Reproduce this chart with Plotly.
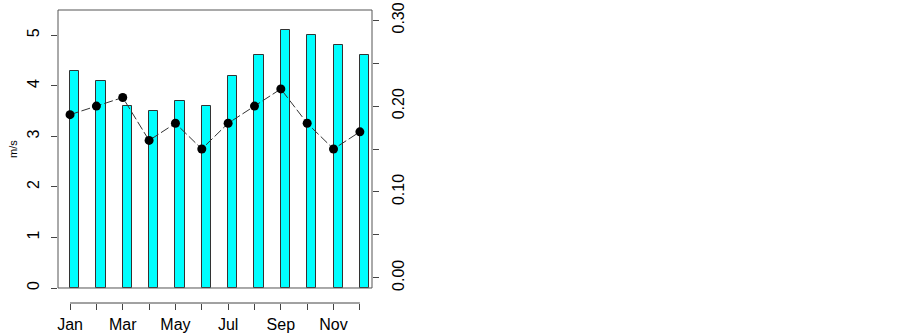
''' Monthly wind speed bars with a second series on the right axis '''
import plotly.graph_objects as go

# Data
months = ['Jan', 'Feb', 'Mar', 'Apr', 'May', 'Jun',
          'Jul', 'Aug', 'Sep', 'Oct', 'Nov', 'Dec']
month_labels = ['Jan', '', 'Mar', '', 'May', '', 'Jul', '', 'Sep', '', 'Nov', '']
wind_speed = [4.3, 4.1, 3.6, 3.5, 3.7, 3.6, 4.2, 4.6, 5.1, 5.0, 4.8, 4.6]
right_series = [0.19, 0.20, 0.21, 0.16, 0.18, 0.15, 0.18, 0.20, 0.22, 0.18, 0.15, 0.17]
left_ticks = [0, 1, 2, 3, 4, 5]
right_ticks = [0.00, 0.05, 0.10, 0.15, 0.20, 0.25, 0.30]
right_tick_labels = ['0.00', '', '0.10', '', '0.20', '', '0.30']

x_idx = list(range(len(months)))

FONT = 'Liberation Sans, Arial, sans-serif'
AXIS_GREY = '#444444'

fig = go.Figure()

# Bars: left edge sits on the month tick
fig.add_trace(
    go.Bar(
        x=x_idx,
        y=wind_speed,
        offset=0,
        width=0.35,
        marker=dict(color='#00FFFF', line=dict(color='#333333', width=1)),
        showlegend=False,
    )
)

# Line with points on the right axis
fig.add_trace(
    go.Scatter(
        x=x_idx,
        y=right_series,
        yaxis='y2',
        mode='lines+markers',
        line=dict(color='#333333', width=1, dash='9px,3px'),
        marker=dict(color='black', size=9),
        showlegend=False,
    )
)

# Box around the plotting region
fig.add_shape(
    type='rect', xref='paper', yref='paper',
    x0=0, x1=1, y0=0.0512, y1=1,
    line=dict(color='#555555', width=1),
)
# x axis line from first to last tick
fig.add_shape(
    type='line', xref='x', yref='paper',
    x0=0, x1=11, y0=0, y1=0,
    line=dict(color=AXIS_GREY, width=1),
)

# y axis title
fig.add_annotation(
    text='m/s', xref='paper', yref='paper',
    x=0, y=0.5256, xanchor='center', yanchor='middle',
    xshift=-45, textangle=-90, showarrow=False,
    font=dict(family=FONT, size=11, color='black'),
)

fig.update_layout(
    width=903,
    height=333,
    margin=dict(l=58, r=531, t=10, b=30, autoexpand=False),
    plot_bgcolor='white',
    paper_bgcolor='white',
    font=dict(family=FONT, size=16, color='black'),
    bargap=0,
    xaxis=dict(
        anchor='free', position=0,
        range=[-0.457, 11.46],
        tickvals=x_idx, ticktext=month_labels,
        ticks='outside', ticklen=6, tickcolor=AXIS_GREY, tickwidth=1,
        showline=False, showgrid=False, zeroline=False,
        ticklabelstandoff=1, automargin=False,
    ),
    yaxis=dict(
        domain=[0.0512, 1],
        range=[0, 5.5],
        tickvals=left_ticks,
        ticks='outside', ticklen=6, tickcolor=AXIS_GREY, tickwidth=1,
        tickangle=-90,
        showline=False, showgrid=False, zeroline=False,
        ticklabelstandoff=6, automargin=False,
    ),
    yaxis2=dict(
        overlaying='y', side='right',
        range=[-0.012, 0.312],
        tickvals=right_ticks, ticktext=right_tick_labels,
        ticks='outside', ticklen=6, tickcolor=AXIS_GREY, tickwidth=1,
        tickangle=-90,
        showline=False, showgrid=False, zeroline=False,
        ticklabelstandoff=6, automargin=False,
        ticklabeloverflow='allow',
    ),
)

# drop the page's default body margin so the figure fills the window
fig.write_html(
    'out.html',
    config={'displayModeBar': False},
    post_script="document.body.style.margin='0';",
)
